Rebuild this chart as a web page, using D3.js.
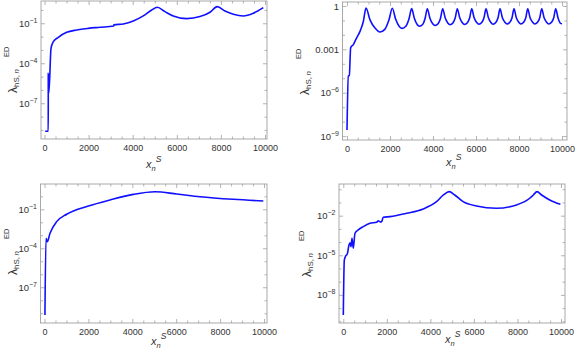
<!DOCTYPE html>
<html>
<head>
<meta charset="utf-8">
<script src="https://cdn.jsdelivr.net/npm/d3@7"></script>
<style>
  body { margin: 0; background: #fff; }
  text { font-family: "Liberation Sans", Arial, sans-serif; fill: #333; }
</style>
</head>
<body>
<script>
let w = 578;
let h = 358;

// shared x axis ticks
const xTicks = [0, 2000, 4000, 6000, 8000, 10000];
const xTickLabels = ["0", "2000", "4000", "6000", "8000", "10000"];

// top-left panel
const xs1 = [30, 170, 172, 200, 295, 400, 626, 1006, 1460, 1987, 2517, 3140, 3150, 3574, 4027, 4481,
  4862, 5116, 5465, 5841, 6450, 7052, 7506, 7837, 8186, 8563, 9016, 9470, 9923];
const lam1 = [7.9e-10, 7.9e-10, 1.74e-5, 6.3e-7, 1.32e-3, 4.2e-3, 8.9e-3, 2.09e-2, 3.16e-2, 4.17e-2, 5.0e-2, 6.3e-2, 7.6e-2, 8.9e-2, 0.148, 0.355,
  1.0, 1.585, 0.741, 0.355, 0.224, 0.316, 0.676, 1.78, 0.832, 0.479, 0.355, 0.562, 1.48];
const yTicks1 = [1e-1, 1e-4, 1e-7];
const yTickLabels1 = ["10^-1", "10^-4", "10^-7"];

// top-right panel
const xs2 = [0, 62, 108, 170, 295, 450, 605, 760, 884,
  1070, 1302, 1535, 1767, 1953, 2108,
  2261, 2423, 2558, 2738, 2882, 3008,
  3132, 3263, 3372, 3518, 3634, 3736,
  3857, 3986, 4093, 4236, 4350, 4450,
  4566, 4688, 4790, 4926, 5035, 5130,
  5244, 5365, 5465, 5599, 5706, 5800,
  5913, 6033, 6133, 6266, 6372, 6465,
  6576, 6693, 6790, 6921, 7025, 7116,
  7227, 7344, 7442, 7572, 7676, 7767,
  7875, 7990, 8086, 8214, 8316, 8405,
  8516, 8633, 8730, 8861, 8965, 9056,
  9167, 9284, 9382, 9512, 9616, 9707,
  9820, 9930, 10000];
const lam2 = [2.63e-9, 1.45e-5, 1.58e-5, 1.26e-3, 2.14e-3, 6.3e-3, 1.74e-2, 8.5e-2, 0.72,
  0.11, 2.95e-2, 1.58e-2, 2.51e-2, 0.11, 0.69,
  0.126, 3.98e-2, 2.82e-2, 3.98e-2, 0.126, 0.66,
  0.141, 5.25e-2, 3.98e-2, 5.25e-2, 0.141, 0.646,
  0.141, 5.89e-2, 4.47e-2, 5.89e-2, 0.141, 0.646,
  0.151, 6.6e-2, 5.0e-2, 6.6e-2, 0.151, 0.646,
  0.151, 6.9e-2, 5.25e-2, 6.9e-2, 0.151, 0.631,
  0.151, 7.1e-2, 5.4e-2, 7.1e-2, 0.151, 0.631,
  0.151, 7.2e-2, 5.5e-2, 7.2e-2, 0.151, 0.631,
  0.151, 7.4e-2, 5.6e-2, 7.4e-2, 0.151, 0.631,
  0.151, 7.4e-2, 5.6e-2, 7.4e-2, 0.151, 0.631,
  0.151, 7.4e-2, 5.6e-2, 7.4e-2, 0.151, 0.631,
  0.151, 7.4e-2, 5.6e-2, 7.4e-2, 0.151, 0.631,
  0.141, 6.3e-2, 5.9e-2];
const yTicks2 = [1, 1e-3, 1e-6, 1e-9];
const yTickLabels2 = ["1", "0.001", "10^-6", "10^-9"];

// bottom-left panel
const xs3 = [20, 68, 128, 250, 555, 1011, 1997, 2984, 4046, 5034, 6023, 7084, 8601, 9968];
const lam3 = [7.4e-10, 5.9e-4, 3.24e-4, 1.41e-3, 1.12e-2, 4.17e-2, 0.178, 0.525, 1.41, 2.24, 1.51, 0.933, 0.589, 0.437];
const yTicks3 = [1e-1, 1e-4, 1e-7];
const yTickLabels3 = ["10^-1", "10^-4", "10^-7"];

// bottom-right panel
const xs4 = [0, 46, 110, 183, 261, 307, 353, 399, 459, 537,
  688, 917, 1225, 1532, 1608, 1690, 1761, 1835, 2141, 2908,
  3670, 4281, 4600, 4862, 5120, 5505, 6119, 7037, 7954, 8564,
  8730, 8899, 9110, 9482, 9972];
const lam4 = [3.0e-10, 4.37e-6, 8.9e-6, 1.26e-5, 6.0e-5, 8.9e-5, 4.47e-5, 1.95e-4, 3.4e-5, 4.68e-4,
  8.3e-4, 1.48e-3, 2.63e-3, 3.16e-3, 4.17e-3, 3.4e-3, 3.55e-3, 7.6e-3, 8.5e-3, 1.51e-2,
  3.24e-2, 0.115, 0.37, 0.661, 0.37, 0.115, 5.4e-2, 3.63e-2, 6.5e-2, 0.209,
  0.37, 0.661, 0.37, 0.155, 7.2e-2];
const yTicks4 = [1e-2, 1e-5, 1e-8];
const yTickLabels4 = ["10^-2", "10^-5", "10^-8"];

// layout of each panel (frame box, x range in px, y exponents at frame edges, label spots)
const panels = [
  { l: 41, t: 1, r: 267, b: 139, xr: [44.5, 265], ylo: -9.68, yhi: 0.67, xs: xs1, ys: lam1, yt: yTicks1, yl: yTickLabels1, ylabX: 16.5, ylabY: 71, xlabX: 152, xlabY: 168 },
  { l: 342.5, t: 2, r: 567, b: 140, xr: [347, 562], ylo: -9.27, yhi: 0.275, xs: xs2, ys: lam2, yt: yTicks2, yl: yTickLabels2, ylabX: 308.5, ylabY: 73, xlabX: 452, xlabY: 165.5 },
  { l: 40.5, t: 184, r: 267, b: 323, xr: [44.5, 264], ylo: -9.75, yhi: 0.946, xs: xs3, ys: lam3, yt: yTicks3, yl: yTickLabels3, ylabX: 16.5, ylabY: 253, xlabX: 157, xlabY: 345 },
  { l: 339, t: 184, r: 565, b: 323, xr: [343.3, 561], ylo: -10.13, yhi: 0.40, xs: xs4, ys: lam4, yt: yTicks4, yl: yTickLabels4, ylabX: 311, ylabY: 255, xlabX: 451, xlabY: 343 },
];

let svg = d3.select("body").append("svg").attr("width", w).attr("height", h);

// "10^-1" -> 10 with raised -1
function writeLabel(sel, s) {
  sel.text(null);
  const parts = s.split("^");
  sel.append("tspan").text(parts[0]);
  if (parts.length > 1) {
    sel.append("tspan").attr("font-size", "7px").attr("dy", "-4").text(parts[1].replace("-", "\u2212"));
  }
}

function styleAxis(g) {
  g.select(".domain").remove();
  g.selectAll(".tick line").attr("stroke", "#a0a0a0").attr("stroke-width", 0.8);
}

panels.forEach(function (p, k) {
  const g = svg.append("g");
  const x = d3.scaleLinear().domain([0, 10000]).range(p.xr);
  const y = d3.scaleLog().domain([Math.pow(10, p.ylo), Math.pow(10, p.yhi)]).range([p.b, p.t]);

  const xMinor = d3.range(0, 10001, 500).filter((v) => v % 2000 !== 0);
  const yMinor = d3.range(Math.ceil(p.ylo), Math.floor(p.yhi) + 1)
    .map((e) => Math.pow(10, e))
    .filter((v) => !p.yt.some((t) => Math.abs(Math.log10(t) - Math.log10(v)) < 1e-6));

  // bottom
  g.append("g").attr("transform", `translate(0,${p.b})`)
    .call(d3.axisBottom(x).tickValues(xTicks).tickSize(-4).tickSizeOuter(0).tickPadding(6)
      .tickFormat((d, i) => xTickLabels[i]))
    .call(styleAxis)
    .selectAll("text").attr("font-size", "9px").attr("fill", "#333");
  g.append("g").attr("transform", `translate(0,${p.b})`)
    .call(d3.axisBottom(x).tickValues(xMinor).tickSize(-2.5).tickSizeOuter(0).tickFormat(""))
    .call(styleAxis);
  // top
  g.append("g").attr("transform", `translate(0,${p.t})`)
    .call(d3.axisTop(x).tickValues(xTicks).tickSize(-4).tickSizeOuter(0).tickFormat(""))
    .call(styleAxis);
  g.append("g").attr("transform", `translate(0,${p.t})`)
    .call(d3.axisTop(x).tickValues(xMinor).tickSize(-2.5).tickSizeOuter(0).tickFormat(""))
    .call(styleAxis);

  // left
  const left = g.append("g").attr("transform", `translate(${p.l},0)`)
    .call(d3.axisLeft(y).tickValues(p.yt).tickSize(-4).tickSizeOuter(0).tickPadding(3.5)
      .tickFormat((d, i) => p.yl[i]))
    .call(styleAxis);
  left.selectAll(".tick text").attr("font-size", "9.5px").attr("fill", "#333")
    .each(function (d, i) { writeLabel(d3.select(this), p.yl[i]); });
  g.append("g").attr("transform", `translate(${p.l},0)`)
    .call(d3.axisLeft(y).tickValues(yMinor).tickSize(-2.5).tickSizeOuter(0).tickFormat(""))
    .call(styleAxis);
  // right
  g.append("g").attr("transform", `translate(${p.r},0)`)
    .call(d3.axisRight(y).tickValues(p.yt).tickSize(-4).tickSizeOuter(0).tickFormat(""))
    .call(styleAxis);
  g.append("g").attr("transform", `translate(${p.r},0)`)
    .call(d3.axisRight(y).tickValues(yMinor).tickSize(-2.5).tickSizeOuter(0).tickFormat(""))
    .call(styleAxis);

  // frame
  g.append("rect")
    .attr("x", p.l).attr("y", p.t)
    .attr("width", p.r - p.l).attr("height", p.b - p.t)
    .attr("fill", "none").attr("stroke", "#a0a0a0").attr("stroke-width", 0.9);

  // curve
  const clipId = "clip" + k;
  g.append("clipPath").attr("id", clipId).append("rect")
    .attr("x", p.l).attr("y", p.t).attr("width", p.r - p.l).attr("height", p.b - p.t);
  const pts = p.xs.map((v, i) => [v, p.ys[i]]);
  const lineFunc = d3.line()
    .x((d) => x(d[0]))
    .y((d) => y(d[1]))
    .curve(d3.curveMonotoneX);
  g.append("path")
    .attr("d", lineFunc(pts))
    .attr("clip-path", `url(#${clipId})`)
    .attr("fill", "none")
    .attr("stroke", "#1010ff")
    .attr("stroke-width", 1.6)
    .attr("stroke-linejoin", "round");

  // y label: lambda_{hS,n}^{ED}
  const yl = g.append("text")
    .attr("transform", `translate(${p.ylabX},${p.ylabY}) rotate(-90)`)
    .attr("x", -22)
    .attr("font-size", "12px");
  yl.append("tspan").text("\u03bb");
  yl.append("tspan").attr("font-size", "8px").attr("dy", 2).text("hS,");
  yl.append("tspan").attr("font-size", "8px").attr("font-style", "italic").attr("dx", 1.5).text("n");
  yl.append("tspan").attr("font-size", "7.5px").attr("dx", 12).attr("dy", -9.5).text("ED");

  // x label: x_n^S
  const xl = g.append("text")
    .attr("x", p.xlabX - 6).attr("y", p.xlabY)
    .attr("font-size", "11px").attr("font-style", "italic");
  xl.append("tspan").text("x");
  xl.append("tspan").attr("font-size", "7.5px").attr("dy", 3).text("n");
  xl.append("tspan").attr("font-size", "8.5px").attr("dy", -9).text("S");
});
</script>
</body>
</html>
